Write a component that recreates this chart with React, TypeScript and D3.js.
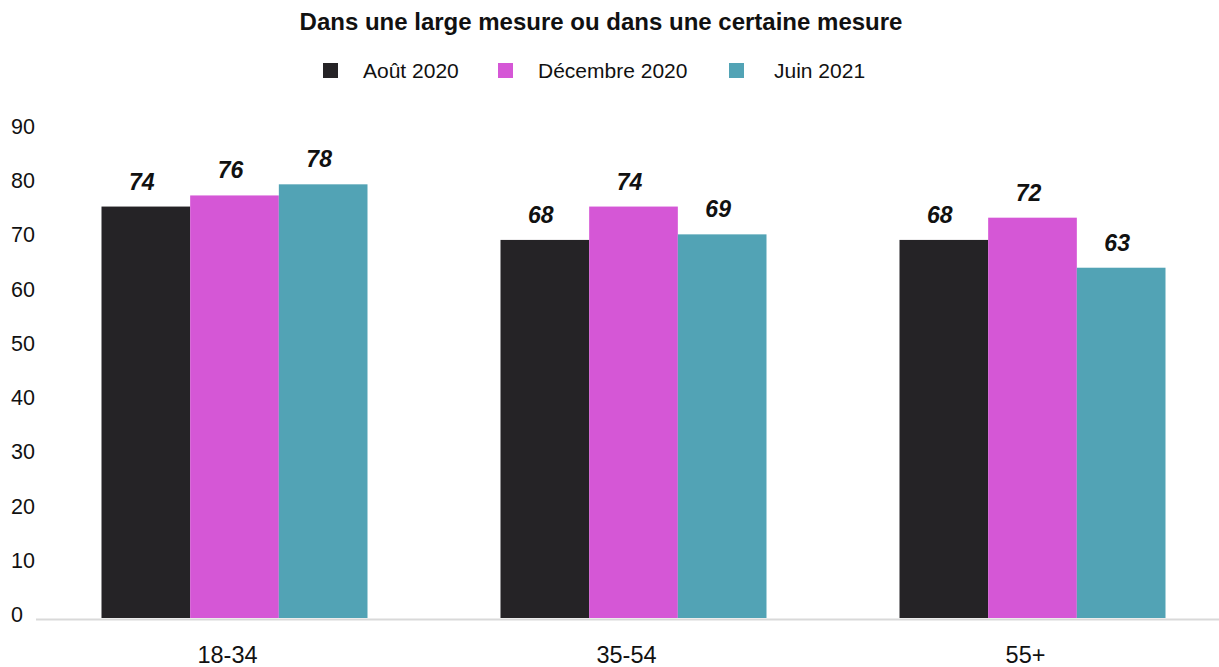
import React from "react";
import * as d3 from "d3";

const categories = ["18-34", "35-54", "55+"];
const seriesNames = ["Août 2020", "Décembre 2020", "Juin 2021"];
const aout2020 = [74, 68, 68];
const decembre2020 = [76, 74, 72];
const juin2021 = [78, 69, 63];
const yTicks = [0, 10, 20, 30, 40, 50, 60, 70, 80, 90];
const colors = ["#252326", "#d557d6", "#52a3b5"];

const W = 1219;
const H = 667;
const FONT = "'Liberation Sans', Arial, Helvetica, sans-serif";

export default function App() {
  const seriesValues = [aout2020, decembre2020, juin2021];
  const x = d3.scaleBand<string>().domain(categories).range([35, 1232]).paddingInner(1 / 3).paddingOuter(1 / 6);
  const xi = d3.scaleBand<string>().domain(seriesNames).range([0, x.bandwidth()]);
  const y = d3.scaleLinear().domain([0, 90]).range([618, 117.6]);
  const yLabel = d3.scaleLinear().domain([0, 90]).range([622, 134]);

  const legendX = [323, 498, 729];
  const legendTextX = [363, 538, 774];

  return (
    <svg width={W} height={H} style={{ position: "absolute", left: 0, top: 0, background: "#fff" }} fontFamily={FONT}>
      <text x={601} y={30} textAnchor="middle" fontSize={24} fontWeight="bold" fill="#111">
        Dans une large mesure ou dans une certaine mesure
      </text>
      {seriesNames.map((s, i) => (
        <g key={s}>
          <rect x={legendX[i]} y={63} width={15} height={15} fill={colors[i]} />
          <text x={legendTextX[i]} y={78} fontSize={21} fill="#111">{s}</text>
        </g>
      ))}
      {yTicks.map((t) => (
        <text key={t} x={11} y={yLabel(t)} fontSize={21.5} fill="#111">{t}</text>
      ))}
      <line x1={36} x2={1219} y1={619.5} y2={619.5} stroke="#d9d9d9" strokeWidth={2} />
      {categories.map((c, ci) => (
        <g key={c}>
          {seriesNames.map((s, si) => {
            const v = seriesValues[si][ci];
            const bx = (x(c) as number) + (xi(s) as number);
            return (
              <g key={s}>
                <rect x={bx} y={y(v)} width={xi.bandwidth()} height={y(0) - y(v)} fill={colors[si]} />
                <text x={bx + xi.bandwidth() / 2 - 4} y={y(v) - 17} textAnchor="middle" fontSize={23} fontWeight="bold" fontStyle="italic" fill="#111">
                  {v}
                </text>
              </g>
            );
          })}
          <text x={(x(c) as number) + x.bandwidth() / 2 - 7} y={663} textAnchor="middle" fontSize={23.5} fill="#111">{c}</text>
        </g>
      ))}
    </svg>
  );
}
